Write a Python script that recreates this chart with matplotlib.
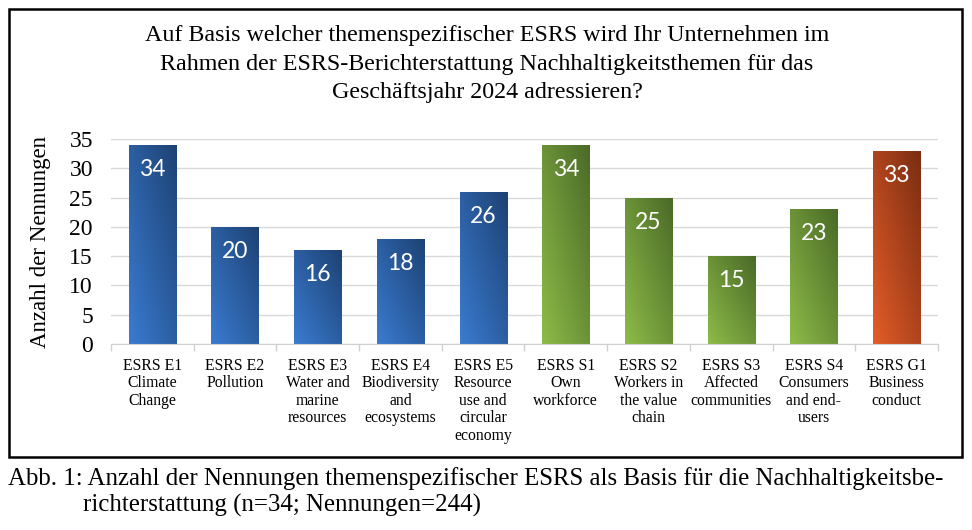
import numpy as np
import matplotlib
matplotlib.use("Agg")
import matplotlib.pyplot as plt
from matplotlib.colors import LinearSegmentedColormap
from matplotlib.patches import Rectangle

plt.rcParams['font.family'] = ['Liberation Serif', 'DejaVu Serif']

# --- data ---
categories = [
    "ESRS E1\nClimate\nChange",
    "ESRS E2\nPollution",
    "ESRS E3\nWater and\nmarine\nresources",
    "ESRS E4\nBiodiversity\nand\necosystems",
    "ESRS E5\nResource\nuse and\ncircular\neconomy",
    "ESRS S1\nOwn\nworkforce",
    "ESRS S2\nWorkers in\nthe value\nchain",
    "ESRS S3\nAffected\ncommunities",
    "ESRS S4\nConsumers\nand end-\nusers",
    "ESRS G1\nBusiness\nconduct",
]
values = [34, 20, 16, 18, 26, 34, 25, 15, 23, 33]
groups = ["E", "E", "E", "E", "E", "S", "S", "S", "S", "G"]
yticks = [0, 5, 10, 15, 20, 25, 30, 35]

title = ("Auf Basis welcher themenspezifischer ESRS wird Ihr Unternehmen im\n"
         "Rahmen der ESRS-Berichterstattung Nachhaltigkeitsthemen für das\n"
         "Geschäftsjahr 2024 adressieren?")
ylabel = "Anzahl der Nennungen"
caption1 = "Abb. 1: Anzahl der Nennungen themenspezifischer ESRS als Basis für die Nachhaltigkeitsbe-"
caption2 = "richterstattung (n=34; Nennungen=244)"

# light (bottom-left) -> dark (top-right)
gradients = {
    "E": ("#3a7bd0", "#1d4274"),
    "S": ("#8dbb48", "#4a6a27"),
    "G": ("#e45c28", "#7a2d12"),
}

fig = plt.figure(figsize=(9.72, 5.30), dpi=100)
ax = fig.add_axes([0.1142, 0.3509, 0.8508, 0.3868])

x = np.arange(len(values))
bars = ax.bar(x, values, width=0.57, color="none", edgecolor="none", zorder=2)

# diagonal gradient fill, clipped to each bar
uu, vv = np.meshgrid(np.linspace(0, 1, 60), np.linspace(0, 1, 60))
grad = (uu + vv) / 2
for b, g in zip(bars, groups):
    cmap = LinearSegmentedColormap.from_list(g, gradients[g])
    x0, y0 = b.get_x(), b.get_y()
    w, h = b.get_width(), b.get_height()
    im = ax.imshow(grad, cmap=cmap, origin="lower", aspect="auto",
                   extent=[x0, x0 + w, y0, y0 + h], interpolation="bicubic",
                   zorder=2)
    im.set_clip_path(b)

for xi, v in zip(x, values):
    ax.text(xi, v - 2.4, str(v), ha="center", va="top", color="white",
            fontsize=16.5, family=["Lato", "DejaVu Sans"], zorder=3)

ax.set_xlim(-0.5, len(values) - 0.5)
ax.set_ylim(0, 35)
ax.set_yticks(yticks)
ax.tick_params(axis="y", length=0, labelsize=17, pad=13)
ax.set_xticks(x)
ax.set_xticklabels(categories, fontsize=11.3, linespacing=1.12)
ax.tick_params(axis="x", which="major", length=0, pad=10)
ax.set_xticks(np.arange(-0.5, len(values), 1), minor=True)
ax.tick_params(axis="x", which="minor", length=5, color="#d0d0d0", width=1)
ax.grid(axis="y", color="#d9d9d9", linewidth=1, zorder=0)
ax.set_axisbelow(True)
for s in ["top", "right", "left"]:
    ax.spines[s].set_visible(False)
ax.spines["bottom"].set_color("#d0d0d0")
ax.set_ylabel(ylabel, fontsize=16.5, labelpad=13)

fig.text(0.501, 0.953, title, ha="center", va="top", fontsize=17.3,
         linespacing=1.48)

# frame around the chart
fig.patches.append(Rectangle((0.009, 0.138), 0.981, 0.845, transform=fig.transFigure,
                             fill=False, edgecolor="black", linewidth=1.8))

fig.text(0.008, 0.098, caption1, ha="left", va="center", fontsize=17.9)
fig.text(0.085, 0.046, caption2, ha="left", va="center", fontsize=17.9)

fig.savefig("out.png", dpi=100)
